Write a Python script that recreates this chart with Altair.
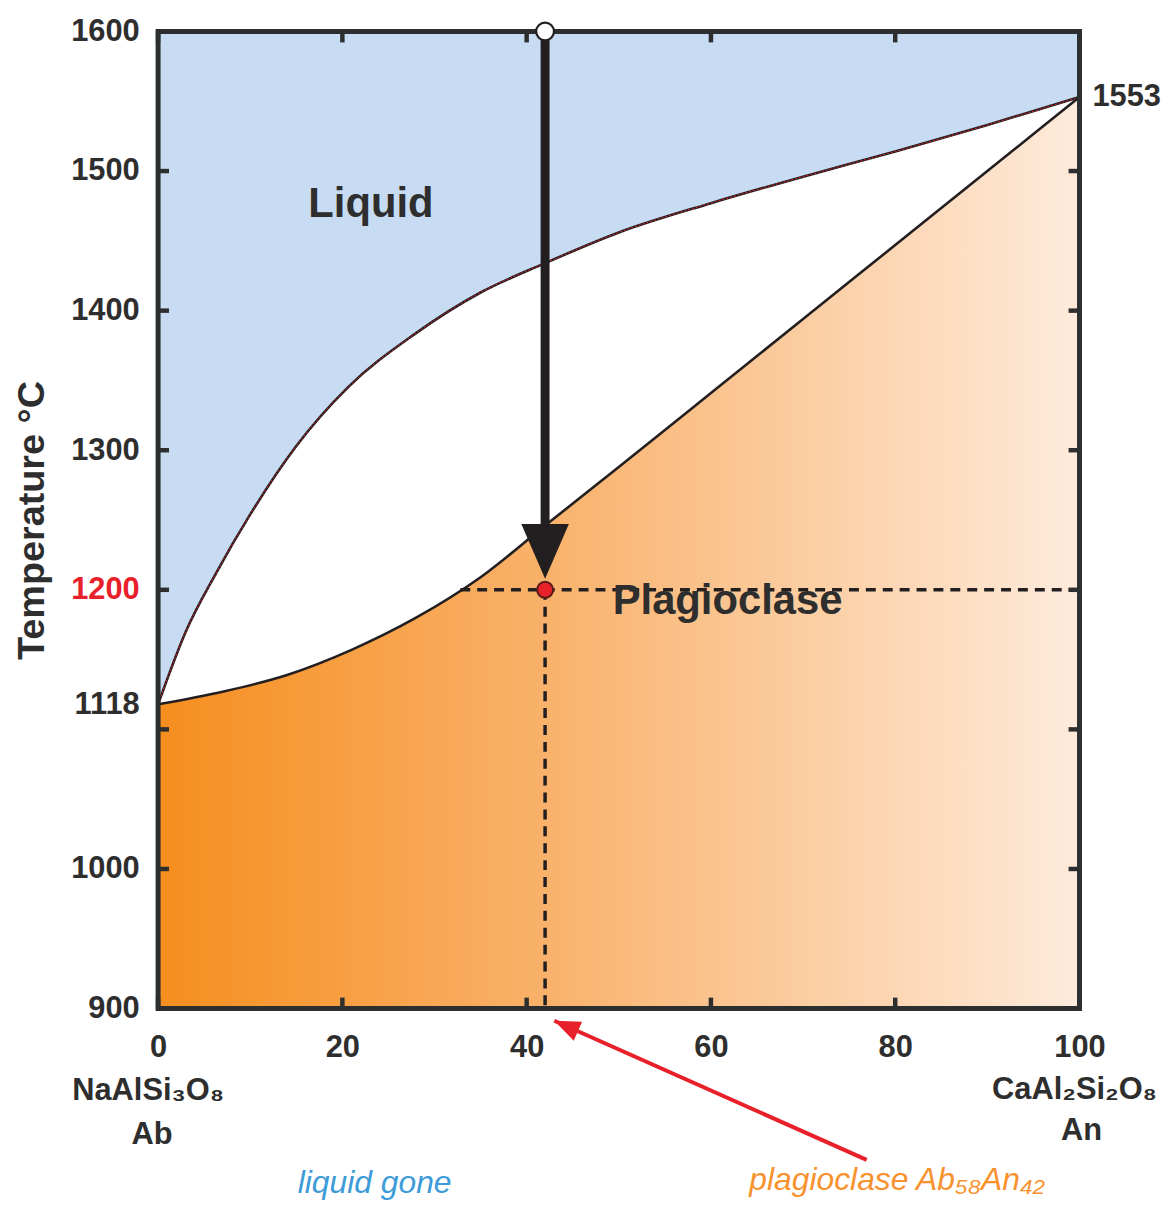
import altair as alt
import pandas as pd

# ---------------- data ----------------
liq_x = [0, 3, 6.3, 10, 15, 20.6, 27.8, 35, 42, 50, 60, 70, 80, 90, 100]
liq_T = [1118, 1170, 1212, 1254, 1303, 1345, 1383, 1413, 1434, 1456, 1477, 1496, 1514, 1533, 1553]
sol_x = [0, 7, 14, 21, 28, 35, 42, 50, 60, 70, 80, 90, 100]
sol_T = [1118, 1127, 1139, 1157, 1180, 1209, 1246, 1288, 1341, 1394, 1447, 1500, 1553]

bulk_x = 42          # bulk composition An42
start_T = 1600       # starting temperature
end_T = 1200         # liquid gone
solidus_at_end_x = 32.8
arrow_tip_T = 1208
arrow_shaft_end_T = 1245

x_ticks = [0, 20, 40, 60, 80, 100]
y_ticks = [900, 1000, 1100, 1200, 1300, 1400, 1500, 1600]
y_labels = [900, 1000, 1118, 1200, 1300, 1400, 1500, 1600]
T_min, T_max = 900, 1600

# red pointer (data coords, below the axis)
ptr_tip = (43.0, 891.3)
ptr_tail = (76.9, 791.6)

# ---------------- styles ----------------
W, H = 927, 983
F = "Liberation Sans"
DARK = "#2e2e2e"
LINE = "#231f20"
RED = "#e8202a"
BLUE_FILL = "#c7dcf2"

xs = alt.Scale(domain=[0, 100], nice=False, zero=False)
ys = alt.Scale(domain=[T_min, T_max], nice=False, zero=False)

xaxis = alt.Axis(values=x_ticks, title=None, grid=False, domain=False, ticks=False, tickSize=0,
                 labelPadding=24, labelFont=F, labelFontSize=31, labelFontWeight="bold",
                 labelColor=DARK, labelFlush=False, labelOverlap=False, format="d")
yaxis = alt.Axis(values=y_labels, title="Temperature °C", grid=False, domain=False, ticks=False,
                 tickSize=0, labelPadding=19, labelFont=F, labelFontSize=31, labelFontWeight="bold",
                 labelColor=alt.condition("datum.value == 1200", alt.value(RED), alt.value(DARK)),
                 labelOverlap=False, labelFlush=False, format="d",
                 titleFont=F, titleFontSize=38, titleFontWeight="bold", titleColor=DARK, titlePadding=19)


def X(f):
    return alt.X(f, type="quantitative", scale=xs, axis=xaxis)


def Y(f):
    return alt.Y(f, type="quantitative", scale=ys, axis=yaxis)


liq = pd.DataFrame({"x": liq_x, "T": liq_T, "top": [T_max] * len(liq_x)})
sol = pd.DataFrame({"x": sol_x, "T": sol_T, "bot": [T_min] * len(sol_x)})

liquid_area = alt.Chart(liq).mark_area(color=BLUE_FILL, interpolate="monotone").encode(
    x=X("x"), y=Y("T"), y2=alt.Y2("top"))

solid_area = alt.Chart(sol).mark_area(
    interpolate="monotone",
    color=alt.Gradient(gradient="linear",
                       stops=[alt.GradientStop(color="#f68e1e", offset=0),
                              alt.GradientStop(color="#f9b470", offset=0.45),
                              alt.GradientStop(color="#feebdc", offset=1)],
                       x1=0, x2=1, y1=0, y2=0)
).encode(x=X("x"), y=Y("T"), y2=alt.Y2("bot"))

liq_line = alt.Chart(liq).mark_line(color=LINE, strokeWidth=2.6, interpolate="monotone").encode(
    x=X("x"), y=Y("T"))
liq_red = alt.Chart(liq).mark_line(color=RED, strokeWidth=1.0, strokeDash=[2, 2],
                                   interpolate="monotone").encode(x=X("x"), y=Y("T"))
sol_line = alt.Chart(sol).mark_line(color=LINE, strokeWidth=2.6, interpolate="monotone").encode(
    x=X("x"), y=Y("T"))

hdash = alt.Chart(pd.DataFrame({"x": [solidus_at_end_x], "x2": [100], "T": [end_T]})).mark_rule(
    color=LINE, strokeWidth=3.5, strokeDash=[10, 7]).encode(x=X("x"), x2=alt.X2("x2"), y=Y("T"))
vdash = alt.Chart(pd.DataFrame({"x": [bulk_x], "T": [end_T], "T2": [T_min]})).mark_rule(
    color=LINE, strokeWidth=3.5, strokeDash=[10, 7]).encode(x=X("x"), y=Y("T"), y2=alt.Y2("T2"))

shaft = alt.Chart(pd.DataFrame({"x": [bulk_x], "T": [start_T], "T2": [arrow_shaft_end_T]})).mark_rule(
    color=LINE, strokeWidth=9).encode(x=X("x"), y=Y("T"), y2=alt.Y2("T2"))
head = alt.Chart(pd.DataFrame({"x": [bulk_x], "T": [arrow_tip_T]})).mark_point(
    shape="M-0.87,-2L0.87,-2L0,0Z", size=3025, filled=True, color=LINE, opacity=1, strokeWidth=0
).encode(x=X("x"), y=Y("T"))

start_pt = alt.Chart(pd.DataFrame({"x": [bulk_x], "T": [start_T]})).mark_point(
    shape="circle", size=320, filled=True, fill="white", stroke=LINE, strokeWidth=2.2, opacity=1
).encode(x=X("x"), y=Y("T"))
end_pt = alt.Chart(pd.DataFrame({"x": [bulk_x], "T": [end_T]})).mark_point(
    shape="circle", size=260, filled=True, fill=RED, stroke="#5a1a1a", strokeWidth=2, opacity=1
).encode(x=X("x"), y=Y("T"))

pointer = alt.Chart(pd.DataFrame({"x": [ptr_tail[0]], "T": [ptr_tail[1]],
                                  "x2": [ptr_tip[0]], "T2": [ptr_tip[1]]})).mark_rule(
    color=RED, strokeWidth=4).encode(x=X("x"), y=Y("T"), x2=alt.X2("x2"), y2=alt.Y2("T2"))
pointer_head = alt.Chart(pd.DataFrame({"x": [ptr_tip[0]], "T": [ptr_tip[1]]})).mark_point(
    shape="M0,0L-0.8,2L0.8,2Z", size=676, angle=294, filled=True, color=RED, opacity=1, strokeWidth=0
).encode(x=X("x"), y=Y("T"))

# region labels
region_df = pd.DataFrame({"x": [23.1, 61.8], "T": [1467, 1183], "label": ["Liquid", "Plagioclase"]})
region_txt = alt.Chart(region_df).mark_text(font=F, fontSize=42, fontWeight="bold", color=DARK,
                                            align="center", baseline="alphabetic").encode(
    x=X("x"), y=Y("T"), text="label:N")

t1553 = alt.Chart(pd.DataFrame({"x": [100], "T": [1553], "label": ["1553"]})).mark_text(
    font=F, fontSize=31, fontWeight="bold", color=DARK, align="left", baseline="middle", dx=13
).encode(x=X("x"), y=Y("T"), text="label:N")


# end-member labels below the axis
def below(xv, ypix, label, dx=0, color=DARK, weight="bold", style="normal", size=31):
    return alt.Chart(pd.DataFrame({"x": [xv], "label": [label]})).mark_text(
        font=F, fontSize=size, fontWeight=weight, fontStyle=style, color=color,
        align="center", baseline="alphabetic", dx=dx
    ).encode(x=X("x"), y=alt.value(ypix), text="label:N")


ab1 = below(0, 1075, "NaAlSi₃O₈", dx=-10)
ab2 = below(0, 1119, "Ab", dx=-6)
an1 = below(100, 1074, "CaAl₂Si₂O₈", dx=-5)
an2 = below(100, 1115, "An", dx=2)
cap1 = below(23.5, 1169, "liquid gone", color="#3d9bd8", weight="normal", style="italic", size=32)
cap2 = below(80.2, 1166, "plagioclase Ab₅₈An₄₂", color="#f7922e", weight="normal", style="italic", size=32)

# inward ticks and frame
TL = 11
yt = pd.DataFrame({"T": y_ticks})
xt = pd.DataFrame({"x": x_ticks})
tick_l = alt.Chart(yt).mark_rule(color=DARK, strokeWidth=4.5).encode(
    y=Y("T"), x=alt.value(0), x2=alt.value(TL))
tick_r = alt.Chart(yt).mark_rule(color=DARK, strokeWidth=4.5).encode(
    y=Y("T"), x=alt.value(W - TL), x2=alt.value(W))
tick_b = alt.Chart(xt).mark_rule(color=DARK, strokeWidth=4.5).encode(
    x=X("x"), y=alt.value(H - TL), y2=alt.value(H))
tick_t = alt.Chart(xt).mark_rule(color=DARK, strokeWidth=4.5).encode(
    x=X("x"), y=alt.value(0), y2=alt.value(TL))
frame = alt.Chart(pd.DataFrame({"a": [0]})).mark_rect(
    fill="transparent", stroke="#2b2f30", strokeWidth=5).encode(
    x=alt.value(0), x2=alt.value(W), y=alt.value(0), y2=alt.value(H))

chart = alt.layer(
    liquid_area, solid_area, liq_line, liq_red, sol_line,
    hdash, vdash, shaft, head,
    region_txt, t1553,
    tick_l, tick_r, tick_b, tick_t, frame,
    start_pt, end_pt,
    pointer, pointer_head,
    ab1, ab2, an1, an2, cap1, cap2,
).properties(
    width=W, height=H, autosize="none",
    padding={"left": 151, "top": 20, "right": 84, "bottom": 190},
).configure_view(strokeWidth=0)

chart.save("out.html", embed_options={"renderer": "svg", "actions": False})
